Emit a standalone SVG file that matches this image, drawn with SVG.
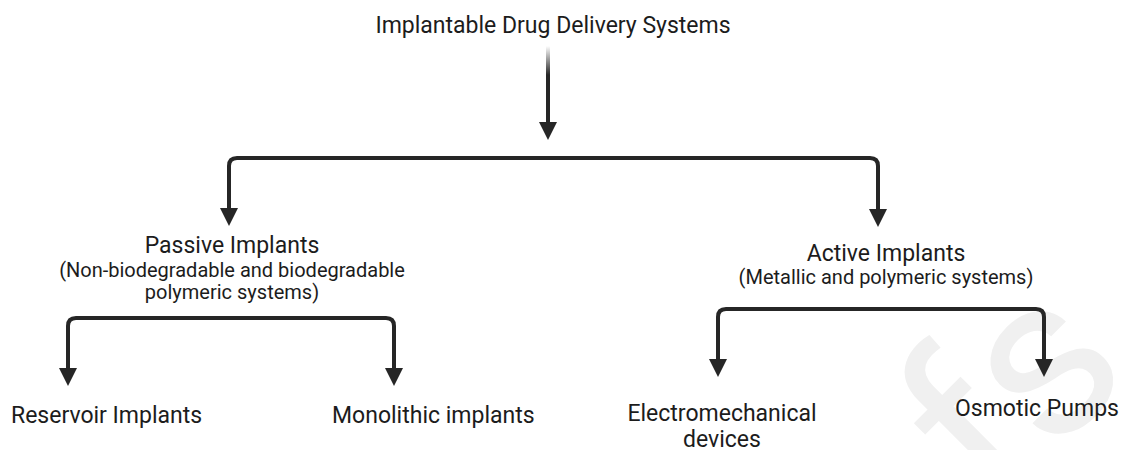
<svg xmlns="http://www.w3.org/2000/svg" width="1121" height="450" viewBox="0 0 1121 450">
<style>
.lbl{font-family:Roboto,"Liberation Sans",sans-serif;fill:#1c1c1c;text-anchor:middle}
.main{font-size:23px}
.sub{font-size:20px}
.start{text-anchor:start}
.conn{fill:none;stroke:#262626;stroke-width:4}
.wm{font-family:Roboto,"Liberation Sans",sans-serif;font-size:230px;fill:#f0f0f0}
</style>
<defs>
<marker id="ah" markerUnits="userSpaceOnUse" markerWidth="18" markerHeight="18" viewBox="0 0 18 18" refX="0" refY="9" orient="auto-start-reverse">
<path d="M0,0 L18,9 L0,18 Z" fill="#262626"/>
</marker>
<linearGradient id="fade" gradientUnits="userSpaceOnUse" x1="0" y1="46" x2="0" y2="75">
<stop offset="0" stop-color="#262626" stop-opacity="0"/>
<stop offset="1" stop-color="#262626" stop-opacity="1"/>
</linearGradient>
</defs>
<rect width="1121" height="450" fill="#ffffff"/>
<text class="wm" transform="translate(1052,372) rotate(-45)" x="58" y="60" text-anchor="end">Proofs</text>
<g id="connectors">
<path d="M548,46 L548,122" fill="none" stroke="url(#fade)" stroke-width="4" marker-end="url(#ah)"/>
<path class="conn" d="M229,208 L229,166 Q229,158 237,158 L870,158 Q878,158 878,166 L878,209" marker-start="url(#ah)" marker-end="url(#ah)"/>
<path class="conn" d="M68,368 L68,326 Q68,318 76,318 L386,318 Q394,318 394,326 L394,368" marker-start="url(#ah)" marker-end="url(#ah)"/>
<path class="conn" d="M718,359 L718,317 Q718,309 726,309 L1036,309 Q1044,309 1044,317 L1044,359" marker-start="url(#ah)" marker-end="url(#ah)"/>
</g>
<g id="root"><text class="lbl main" x="553" y="33">Implantable Drug Delivery Systems</text></g>
<g id="passive">
<text class="lbl main" x="232" y="253">Passive Implants</text>
<text class="lbl sub" x="232" y="277">(Non-biodegradable and biodegradable</text>
<text class="lbl sub" x="232" y="299">polymeric systems)</text>
</g>
<g id="active">
<text class="lbl main" x="886" y="261">Active Implants</text>
<text class="lbl sub" x="886" y="284">(Metallic and polymeric systems)</text>
</g>
<g id="reservoir"><text class="lbl main start" x="11" y="423">Reservoir Implants</text></g>
<g id="monolithic"><text class="lbl main start" x="332" y="423">Monolithic implants</text></g>
<g id="electro">
<text class="lbl main" x="722" y="421">Electromechanical</text>
<text class="lbl main" x="722" y="447">devices</text>
</g>
<g id="osmotic"><text class="lbl main start" x="955" y="416">Osmotic Pumps</text></g>
</svg>
